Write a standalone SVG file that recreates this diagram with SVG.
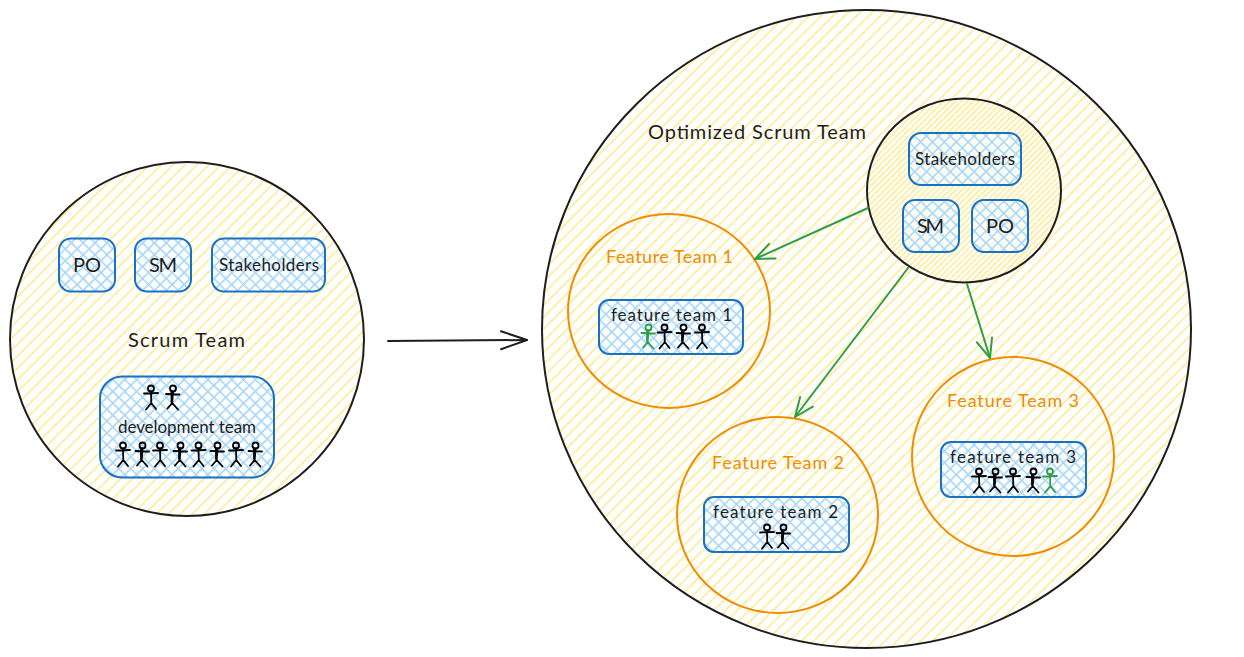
<svg xmlns="http://www.w3.org/2000/svg" xmlns:xlink="http://www.w3.org/1999/xlink" width="1244" height="657" viewBox="0 0 1244 657">
<style>
text{font-family:"Lato","Liberation Sans",sans-serif;fill:#1e1e1e;text-anchor:start;dominant-baseline:central;font-size:17px}
.o{fill:#f08c00;font-size:18px}
.l{font-size:20px}
.big{fill:url(#y);stroke:#1e1e1e;stroke-width:2}
.dense{fill:url(#y2)}
.ft{fill:none;stroke:#f08c00;stroke-width:2}
.b{fill:url(#x);stroke:#1971c2;stroke-width:2}
.c{fill:none;stroke-width:2;stroke-linecap:round}
.fig{fill:none;stroke:currentColor;stroke-width:1.8;stroke-linecap:round;stroke-linejoin:round}
</style>
<defs>
<pattern id="y" width="8.4" height="8.4" patternUnits="userSpaceOnUse" patternTransform="rotate(45)"><rect x="3" width="1.7" height="8.4" fill="#ffec99"/></pattern>
<pattern id="y2" width="8.4" height="8.4" patternUnits="userSpaceOnUse" patternTransform="rotate(45) translate(4.2 0)"><rect x="3" width="1.7" height="8.4" fill="#ffec99"/></pattern>
<pattern id="x" width="8.4" height="8.4" patternUnits="userSpaceOnUse" patternTransform="rotate(45)"><rect width="8.4" height="8.4" fill="#fff" fill-opacity="0.6"/><rect x="3" width="1.6" height="8.4" fill="#a5d8ff"/><rect y="3" width="8.4" height="1.6" fill="#a5d8ff"/></pattern>
<g id="p" class="fig"><circle cx="0" cy="3.5" r="3"/><path d="M-7 8.5 L7 8 M0 6.5 L0.3 18 M0.3 18 L-5 24.5 M0.3 18 L5 24"/></g>
<g id="q" class="fig"><circle cx="0.5" cy="3.5" r="3"/><path d="M-6.5 9 L7 9.5 M0.5 6.5 L-0.3 18 M-0.3 18 L-5 23.5 M-0.3 18 L5.5 24.5 M-1 7 L-1 17"/></g>
<marker id="g" viewBox="0 0 24 24" refX="22" refY="12" markerWidth="24" markerHeight="24" markerUnits="userSpaceOnUse" orient="auto"><path d="M3 4 L22 12 L3 20" fill="none" stroke="#2f9e44" stroke-width="2" stroke-linecap="round" stroke-linejoin="round"/></marker>
<marker id="k" viewBox="0 0 32 26" refX="30" refY="13" markerWidth="32" markerHeight="26" markerUnits="userSpaceOnUse" orient="auto"><path d="M4 4 L30 13 L4 22" fill="none" stroke="#1e1e1e" stroke-width="2" stroke-linecap="round" stroke-linejoin="round"/></marker>
</defs>

<g id="scrum-team"><ellipse class="big" cx="187" cy="339" rx="177" ry="177"/><text class="l" x="128" y="339" textLength="117">Scrum Team</text></g>
<g id="optimized-scrum-team"><ellipse class="big" cx="866.5" cy="329" rx="324.5" ry="319"/><text class="l" x="648" y="131" textLength="218">Optimized Scrum Team</text></g>
<g id="core-circle"><ellipse class="dense" cx="964" cy="190.5" rx="97" ry="92"/><ellipse cx="964" cy="190.5" rx="97" ry="92" fill="none" stroke="#1e1e1e" stroke-width="2"/></g>

<g id="po-left"><rect class="b" x="59" y="238.500" width="56" height="53" rx="12"/><text class="l" x="73" y="264" textLength="28">PO</text></g>
<g id="sm-left"><rect class="b" x="135" y="238.500" width="56" height="53" rx="12"/><text class="l" x="149" y="264" textLength="28">SM</text></g>
<g id="stakeholders-left"><rect class="b" x="212" y="238.500" width="113" height="53" rx="12"/><text x="219" y="264" textLength="100">Stakeholders</text></g>
<g id="development-team"><rect class="b" x="100" y="376.500" width="174" height="101" rx="22"/><text x="118" y="426" textLength="138">development team</text>
<g color="#000"><use xlink:href="#p" href="#p" x="151" y="385"/><use href="#q" xlink:href="#q" x="172.500" y="385"/>
<use href="#p" xlink:href="#p" x="123" y="442"/><use href="#q" xlink:href="#q" x="142" y="442"/><use href="#p" xlink:href="#p" x="160" y="442"/><use href="#q" xlink:href="#q" x="180" y="442"/><use href="#p" xlink:href="#p" x="198.500" y="442"/><use href="#q" xlink:href="#q" x="217" y="442"/><use href="#p" xlink:href="#p" x="236" y="442"/><use href="#q" xlink:href="#q" x="255" y="442"/></g></g>

<g id="stakeholders-right"><rect class="b" x="909" y="133" width="112" height="52" rx="12"/><text x="915" y="158" textLength="100">Stakeholders</text></g>
<g id="sm-right"><rect class="b" x="903" y="200" width="56" height="52" rx="12"/><text class="l" x="917" y="225" textLength="27">SM</text></g>
<g id="po-right"><rect class="b" x="972" y="200" width="56" height="52" rx="12"/><text class="l" x="986" y="225" textLength="28">PO</text></g>

<g id="feature-team-1"><ellipse class="ft" cx="669" cy="311" rx="101" ry="97"/><text class="o" x="606" y="256" textLength="127">Feature Team 1</text>
<rect class="b" x="599" y="300" width="144" height="54" rx="10"/><text x="611" y="314" textLength="121">feature team 1</text>
<use href="#q" xlink:href="#q" x="648" y="324" color="#2f9e44"/><g color="#000"><use href="#p" xlink:href="#p" x="664.500" y="324"/><use href="#q" xlink:href="#q" x="683" y="324"/><use href="#p" xlink:href="#p" x="702" y="324"/></g></g>

<g id="feature-team-2"><ellipse class="ft" cx="777.500" cy="515" rx="100.500" ry="98"/><text class="o" x="712" y="462" textLength="132">Feature Team 2</text>
<rect class="b" x="704" y="497" width="145" height="55" rx="10"/><text x="713" y="511" textLength="125">feature team 2</text>
<g color="#000"><use href="#p" xlink:href="#p" x="767" y="524"/><use href="#q" xlink:href="#q" x="783" y="524"/></g></g>

<g id="feature-team-3"><ellipse class="ft" cx="1013" cy="456.500" rx="101" ry="99.500"/><text class="o" x="947" y="400" textLength="132">Feature Team 3</text>
<rect class="b" x="941" y="442" width="145" height="55" rx="10"/><text x="950" y="456" textLength="126">feature team 3</text>
<g color="#000"><use href="#p" xlink:href="#p" x="979" y="468"/><use href="#q" xlink:href="#q" x="995" y="468"/><use href="#p" xlink:href="#p" x="1013" y="468"/><use href="#q" xlink:href="#q" x="1033" y="468"/></g><use href="#p" xlink:href="#p" x="1050" y="468" color="#2f9e44"/></g>

<g id="connectors">
<path class="c" d="M388 341 L527 340" stroke="#1e1e1e" marker-end="url(#k)"/>
<path class="c" d="M868 208 L755 259" stroke="#2f9e44" marker-end="url(#g)"/>
<path class="c" d="M908 268 L795 417" stroke="#2f9e44" marker-end="url(#g)"/>
<path class="c" d="M967 284 L990 358" stroke="#2f9e44" marker-end="url(#g)"/>
</g>
</svg>
